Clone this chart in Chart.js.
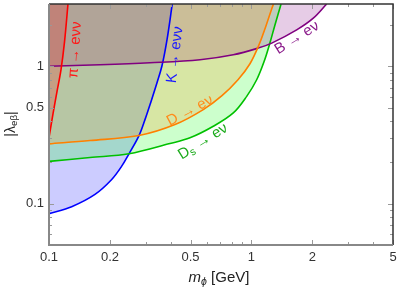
<!DOCTYPE html>
<html>
<head>
<meta charset="utf-8">
<script src="https://cdn.jsdelivr.net/npm/chart.js@4"></script>
<style>
  body { margin: 0; background: #fff; }
  #wrap { width: 398px; height: 291px; }
</style>
</head>
<body>
<div id="wrap"><canvas id="limitsChart" width="398" height="291"></canvas></div>
<script>
// curves, [m_phi (GeV), |lambda|]
const piCurve = [[0.1, 0.303], [0.1047, 0.452], [0.1095, 0.653], [0.1146, 0.943], [0.1193, 1.506], [0.1241, 2.84]];
const kCurve = [[0.1, 0.0846], [0.1294, 0.0951], [0.1687, 0.1168], [0.204, 0.15], [0.2286, 0.1874], [0.2483, 0.2306],
  [0.2783, 0.3131], [0.2979, 0.409], [0.3189, 0.5526], [0.3415, 0.759], [0.3614, 1.008], [0.3826, 1.557], [0.4063, 2.84]];
const dsCurve = [[0.1, 0.203], [0.1594, 0.2168], [0.2483, 0.2306], [0.3958, 0.274], [0.497, 0.3013], [0.6478, 0.3657],
  [0.8132, 0.4574], [0.947, 0.6038], [1.061, 0.798], [1.153, 1.078], [1.234, 1.481], [1.306, 2.0], [1.4, 2.84]];
const dCurve = [[0.1, 0.2725], [0.1594, 0.288], [0.2783, 0.3131], [0.419, 0.3762], [0.578, 0.4834], [0.715, 0.6107],
  [0.858, 0.798], [0.983, 1.043], [1.089, 1.432], [1.179, 1.967], [1.263, 2.658], [1.285, 2.84]];
const bCurve = [[0.1, 1.0], [0.1786, 1.025], [0.3153, 1.06], [0.5568, 1.115], [0.8132, 1.212], [1.08, 1.356],
  [1.259, 1.474], [1.672, 1.84], [2.02, 2.238], [2.351, 2.84]];

const xTicks = [0.1, 0.2, 0.5, 1, 2, 5];
const yTicks = [0.1, 0.5, 1];

// curve labels: text runs (1 = subscript), anchor [m, lambda], angle (deg), colour
const curveLabels = [
  { parts: [["π → eνν", 0]], at: [0.1344, 1.317], angle: -86, color: "#ff1a1a" },
  { parts: [["K → eνν", 0]], at: [0.419, 1.212], angle: -83, color: "#1a1aff" },
  { parts: [["B → eν", 0]], at: [1.678, 1.61], angle: -32, color: "#8a1a8a" },
  { parts: [["D → eν", 0]], at: [0.497, 0.475], angle: -28, color: "#ff8c1a" },
  { parts: [["D", 0], ["s", 1], [" → eν", 0]], at: [0.576, 0.283], angle: -32, color: "#1aaa1a" },
];

const FONT = "'Liberation Sans', Arial, 'DejaVu Sans', sans-serif";

function pts(curve) {
  return curve.map(([x, y]) => ({ x, y }));
}

function curveSet(curve, line, fill) {
  return {
    data: pts(curve),
    borderColor: line,
    backgroundColor: fill,
    borderWidth: 1.6,
    pointRadius: 0,
    fill: "end",
    tension: 0.35,
  };
}

// inward ticks + frame, like the original
const framePlugin = {
  id: "frame",
  afterDatasetsDraw(chart) {
    const { ctx, chartArea: a, scales } = chart;
    ctx.save();
    ctx.strokeStyle = "#999";
    ctx.lineWidth = 1;
    const xs = [];
    for (let d = 0.1; d < 10; d *= 10) for (let k = 1; k <= 9; k++) xs.push([d * k, k === 1 || k === 2 || k === 5]);
    xs.forEach(([v, major]) => {
      if (v < 0.1 || v > 5.001) return;
      const px = Math.round(scales.x.getPixelForValue(v)) + 0.5;
      const len = major ? 5 : 3;
      ctx.beginPath();
      ctx.moveTo(px, a.bottom); ctx.lineTo(px, a.bottom - len);
      ctx.moveTo(px, a.top); ctx.lineTo(px, a.top + len);
      ctx.stroke();
    });
    const ys = [];
    for (let d = 0.01; d < 10; d *= 10) for (let k = 1; k <= 9; k++) ys.push([d * k, k === 1 || k === 5]);
    ys.forEach(([v, major]) => {
      if (v < 0.05 || v > 2.84) return;
      const py = Math.round(scales.y.getPixelForValue(v)) + 0.5;
      const len = major ? 5 : 3;
      ctx.beginPath();
      ctx.moveTo(a.left, py); ctx.lineTo(a.left + len, py);
      ctx.moveTo(a.right, py); ctx.lineTo(a.right - len, py);
      ctx.stroke();
    });
    // frame
    ctx.lineWidth = 1.5;
    ctx.strokeStyle = "#333";
    ctx.beginPath();
    ctx.moveTo(a.left, a.top); ctx.lineTo(a.right, a.top); ctx.lineTo(a.right, a.bottom);
    ctx.stroke();
    ctx.lineWidth = 2;
    ctx.strokeStyle = "#888";
    ctx.beginPath();
    ctx.moveTo(a.left, a.top); ctx.lineTo(a.left, a.bottom); ctx.lineTo(a.right, a.bottom);
    ctx.stroke();
    ctx.restore();
  },
};

// draw runs of text centred on the origin, with optional subscript (flag 1)
function drawRuns(ctx, parts, size, italicFirst) {
  const fontFor = (i, sub) => (italicFirst && i < 2 ? "italic " : "") + (sub ? size * 0.7 : size) + "px " + FONT;
  let total = 0;
  const widths = parts.map(([t, sub], i) => {
    ctx.font = fontFor(i, sub);
    const w = ctx.measureText(t).width;
    total += w;
    return w;
  });
  let x = -total / 2;
  parts.forEach(([t, sub], i) => {
    ctx.font = fontFor(i, sub);
    ctx.fillText(t, x, sub ? size * 0.25 : 0);
    x += widths[i];
  });
}

const labelPlugin = {
  id: "labels",
  afterDraw(chart) {
    const { ctx, scales } = chart;
    ctx.save();
    ctx.textBaseline = "middle";
    ctx.textAlign = "left";
    curveLabels.forEach((l) => {
      ctx.save();
      ctx.translate(scales.x.getPixelForValue(l.at[0]), scales.y.getPixelForValue(l.at[1]));
      ctx.rotate((l.angle * Math.PI) / 180);
      ctx.fillStyle = l.color;
      drawRuns(ctx, l.parts, 15, false);
      ctx.restore();
    });

    // axis titles
    ctx.fillStyle = "#222";
    ctx.save();
    ctx.translate(219, 278);
    drawRuns(ctx, [["m", 0], ["ϕ", 1], [" [GeV]", 0]], 15, true);
    ctx.restore();

    ctx.save();
    ctx.translate(11, 124);
    ctx.rotate(-Math.PI / 2);
    drawRuns(ctx, [["|", 0], ["λ", 0], ["eβ", 1], ["|", 0]], 14, false);
    ctx.restore();
    ctx.restore();
  },
};

// Chart.js paints dataset 0 last: painting order here is blue, green, purple, orange, red
const ctx = document.getElementById("limitsChart").getContext("2d");
new Chart(ctx, {
  type: "line",
  data: {
    datasets: [
      curveSet(piCurve, "#ff0000", "rgba(255,0,0,0.2)"),
      curveSet(dCurve, "#ff8000", "rgba(255,128,0,0.2)"),
      curveSet(bCurve, "#800080", "rgba(128,0,128,0.2)"),
      curveSet(dsCurve, "#00c000", "rgba(0,255,0,0.2)"),
      curveSet(kCurve, "#0000ff", "rgba(0,0,255,0.2)"),
    ],
  },
  options: {
    responsive: false,
    animation: false,
    layout: { padding: { top: 4, right: 5, left: 0, bottom: 0 } },
    plugins: {
      legend: { display: false },
      tooltip: { enabled: false },
      filler: { drawTime: "beforeDatasetsDraw" },
    },
    scales: {
      x: {
        type: "logarithmic",
        min: 0.1,
        max: 5,
        grid: { display: false, drawTicks: false },
        border: { display: false },
        afterBuildTicks: (s) => { s.ticks = xTicks.map((v) => ({ value: v })); },
        afterFit: (s) => { s.height = 46; s.paddingLeft = 0; s.paddingRight = 0; },
        ticks: {
          padding: 5,
          maxRotation: 0,
          autoSkip: false,
          color: "#333",
          font: { size: 13, family: FONT },
          callback: (v) => String(v),
        },
      },
      y: {
        type: "logarithmic",
        min: 0.05,
        max: 2.84,
        grid: { display: false, drawTicks: false },
        border: { display: false },
        afterBuildTicks: (s) => { s.ticks = yTicks.map((v) => ({ value: v })); },
        afterFit: (s) => { s.width = 49; s.paddingTop = 0; s.paddingBottom = 0; },
        ticks: {
          padding: 5,
          autoSkip: false,
          color: "#333",
          font: { size: 13, family: FONT },
          callback: (v) => String(v),
        },
      },
    },
  },
  plugins: [framePlugin, labelPlugin],
});
</script>
</body>
</html>
